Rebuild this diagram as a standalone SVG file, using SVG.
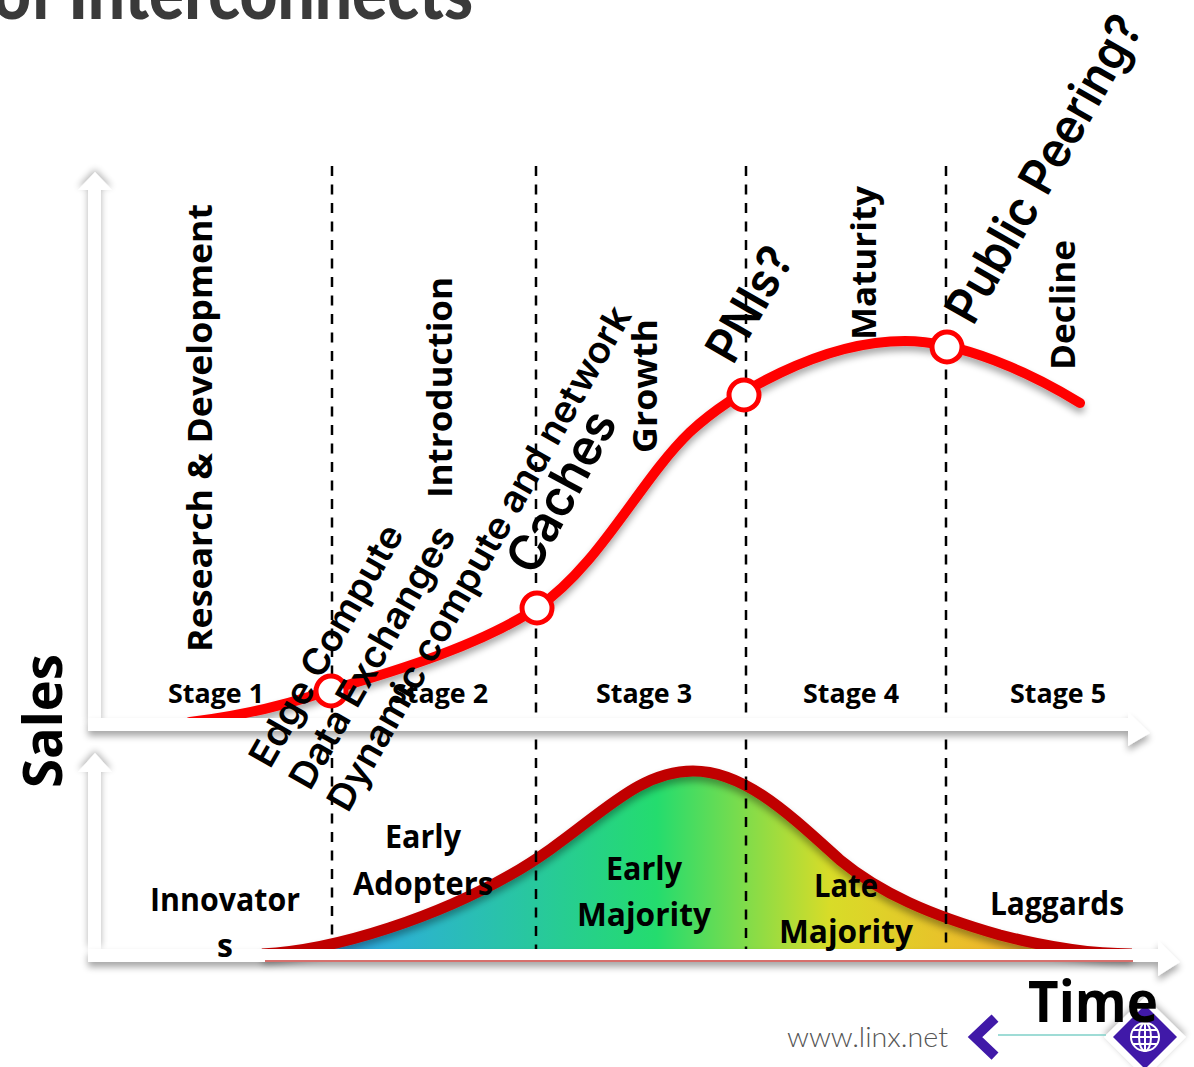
<svg xmlns="http://www.w3.org/2000/svg" width="1194" height="1067" viewBox="0 0 1194 1067">
<defs>
<filter id="sh" x="-20%" y="-60%" width="140%" height="220%"><feGaussianBlur in="SourceAlpha" stdDeviation="3.5"/><feOffset dx="0" dy="5"/><feComponentTransfer><feFuncA type="linear" slope="0.35"/></feComponentTransfer><feMerge><feMergeNode/><feMergeNode in="SourceGraphic"/></feMerge></filter>
<filter id="sh0" x="-100%" y="-10%" width="300%" height="120%"><feGaussianBlur in="SourceAlpha" stdDeviation="3.5"/><feOffset dx="0" dy="-3"/><feComponentTransfer><feFuncA type="linear" slope="0.3"/></feComponentTransfer><feMerge><feMergeNode/><feMergeNode in="SourceGraphic"/></feMerge></filter>
<linearGradient id="bell" gradientUnits="userSpaceOnUse" x1="340" y1="0" x2="1060" y2="0"><stop offset="0" stop-color="#2ea8e8"/><stop offset="0.44" stop-color="#24dc6e"/><stop offset="0.68" stop-color="#d8dc28"/><stop offset="1" stop-color="#f8a82c"/></linearGradient>
<clipPath id="above"><rect x="0" y="0" width="1194" height="718"/></clipPath>
<style>
.cal{font-family:"Open Sans","Liberation Sans",sans-serif;font-weight:700;fill:#000}
.rot{font-family:"Open Sans","Liberation Sans",sans-serif;font-weight:700;fill:#000}
.ang{font-family:Inter,"Open Sans",sans-serif;font-weight:600;fill:#000}
.axis{fill:#fff}
.div{stroke:#000;stroke-width:2.5;stroke-dasharray:10 8.5;fill:none}
.dot{fill:#fff;stroke:#f00;stroke-width:5}
</style>
</defs>
<rect width="1194" height="1067" fill="#fff"/>
<text id="title" x="-7" y="19" font-family="Lato,'Open Sans',sans-serif" font-weight="900" font-size="74" fill="#3a3a3a" textLength="480" lengthAdjust="spacingAndGlyphs">of Interconnects</text>
<g id="connectors">
<line class="div" x1="332" y1="166" x2="332" y2="950"/>
<line class="div" x1="536" y1="166" x2="536" y2="950"/>
<line class="div" x1="746" y1="166" x2="746" y2="950"/>
<line class="div" x1="946" y1="166" x2="946" y2="950"/>
</g>
<g id="bell-curve">
<path d="M262 954C340 950 440 915 510 875C590 830 630 771 693 771C745 771 790 815 840 860C880 893 930 915 1000 935C1050 948 1090 954 1132 954Z" fill="url(#bell)"/>
<path d="M262 954C340 950 440 915 510 875C590 830 630 771 693 771C745 771 790 815 840 860C880 893 930 915 1000 935C1050 948 1090 954 1132 954" fill="none" stroke="#c00000" stroke-width="11" filter="url(#sh)"/>
<line class="div" x1="536" y1="852" x2="536" y2="950"/>
<line class="div" x1="746" y1="780" x2="746" y2="950"/>
<line class="div" x1="946" y1="914" x2="946" y2="950"/>
</g>
<g id="growth-curve" clip-path="url(#above)">
<path d="M190 722C240 716 290 704 330 690C400 670 480 645 537 608C600 565 640 480 690 432C730 395 820 341 905 341C960 341 1030 372 1080 403" fill="none" stroke="#f00" stroke-width="10" stroke-linecap="round" filter="url(#sh)"/>
</g>
<g id="axes">
<path class="axis" filter="url(#sh0)" d="M88 725V190H78L95 172L112 190H101V725Z"/>
<path class="axis" filter="url(#sh0)" d="M88 950V772H78L95 753L112 772H101V950Z"/>
<path class="axis" filter="url(#sh)" d="M88 718H1128V712L1150 733L1128 746V731H88Z"/>
<path class="axis" filter="url(#sh)" d="M88 949H1158V940L1180 962L1158 976V962H88Z"/>
<line x1="265" y1="961" x2="1133" y2="961" stroke="#c8403c" stroke-width="1.5"/>
</g>
<g id="markers">
<circle id="m1" class="dot" cx="331" cy="691" r="15"/>
<circle id="m2" class="dot" cx="537" cy="608" r="15"/>
<circle id="m3" class="dot" cx="744" cy="395" r="15"/>
<circle id="m4" class="dot" cx="947" cy="347" r="15"/>
</g>
<g id="stages" font-size="26">
<text class="cal" x="216" y="703" text-anchor="middle" textLength="96" lengthAdjust="spacingAndGlyphs">Stage 1</text>
<text class="cal" x="440" y="703" text-anchor="middle" textLength="96" lengthAdjust="spacingAndGlyphs">Stage 2</text>
<text class="cal" x="644" y="703" text-anchor="middle" textLength="96" lengthAdjust="spacingAndGlyphs">Stage 3</text>
<text class="cal" x="851" y="703" text-anchor="middle" textLength="96" lengthAdjust="spacingAndGlyphs">Stage 4</text>
<text class="cal" x="1058" y="703" text-anchor="middle" textLength="96" lengthAdjust="spacingAndGlyphs">Stage 5</text>
</g>
<g id="phases" font-size="34">
<text class="rot" transform="translate(212 652) rotate(-90)" textLength="448" lengthAdjust="spacingAndGlyphs">Research &amp; Development</text>
<text class="rot" transform="translate(452 498) rotate(-90)" textLength="221" lengthAdjust="spacingAndGlyphs">Introduction</text>
<text class="rot" transform="translate(657 453) rotate(-90)" textLength="134" lengthAdjust="spacingAndGlyphs">Growth</text>
<text class="rot" transform="translate(876 340) rotate(-90)" textLength="154" lengthAdjust="spacingAndGlyphs">Maturity</text>
<text class="rot" transform="translate(1075 370) rotate(-90)" textLength="130" lengthAdjust="spacingAndGlyphs">Decline</text>
</g>
<g id="angled">
<text class="ang" transform="translate(270 770) rotate(-60.3)" textLength="272" lengthAdjust="spacingAndGlyphs" font-size="37">Edge Compute</text>
<text class="ang" transform="translate(310 792) rotate(-60.3)" textLength="296" lengthAdjust="spacingAndGlyphs" font-size="37">Data Exchanges</text>
<text class="ang" transform="translate(348 814) rotate(-60.3)" textLength="574" lengthAdjust="spacingAndGlyphs" font-size="37">Dynamic compute and network</text>
<text class="ang" transform="translate(535 577) rotate(-61.7)" textLength="176" lengthAdjust="spacingAndGlyphs" font-size="50">Caches</text>
<text class="ang" transform="translate(733 366) rotate(-60)" textLength="124" lengthAdjust="spacingAndGlyphs" font-size="48">PNIs?</text>
<text class="ang" transform="translate(973 327) rotate(-60.3)" textLength="345" lengthAdjust="spacingAndGlyphs" font-size="49">Public Peering?</text>
</g>
<g id="adopters" font-size="32">
<text class="cal" x="225" y="911" text-anchor="middle" textLength="150" lengthAdjust="spacingAndGlyphs">Innovator</text>
<text class="cal" x="225" y="957" text-anchor="middle">s</text>
<text class="cal" x="423" y="848" text-anchor="middle" textLength="76" lengthAdjust="spacingAndGlyphs">Early</text>
<text class="cal" x="423" y="895" text-anchor="middle" textLength="140" lengthAdjust="spacingAndGlyphs">Adopters</text>
<text class="cal" x="644" y="880" text-anchor="middle" textLength="76" lengthAdjust="spacingAndGlyphs">Early</text>
<text class="cal" x="644" y="926" text-anchor="middle" textLength="134" lengthAdjust="spacingAndGlyphs">Majority</text>
<text class="cal" x="846" y="897" text-anchor="middle" textLength="64" lengthAdjust="spacingAndGlyphs">Late</text>
<text class="cal" x="846" y="943" text-anchor="middle" textLength="134" lengthAdjust="spacingAndGlyphs">Majority</text>
<text class="cal" x="1057" y="915" text-anchor="middle" textLength="134" lengthAdjust="spacingAndGlyphs">Laggards</text>
</g>
<text id="sales" class="rot" transform="translate(62 788) rotate(-90)" font-size="54" textLength="134" lengthAdjust="spacingAndGlyphs">Sales</text>
<g id="logo">
<path d="M1145 997L1186 1037L1145 1078L1104 1037Z" fill="#fff" filter="url(#sh0)"/>
<path d="M1145 1005L1177 1037L1145 1069L1113 1037Z" fill="#4019a8"/>
<g fill="none" stroke="#fff" stroke-width="2"><circle cx="1145" cy="1037" r="14"/><ellipse cx="1145" cy="1037" rx="6" ry="14"/><path d="M1131 1037H1159M1133 1030H1157M1133 1044H1157M1145 1023V1051"/></g>
<path d="M995 1018L975 1037L995 1056" fill="none" stroke="#4019a8" stroke-width="10"/>
<line x1="998" y1="1035" x2="1106" y2="1035" stroke="#7fd0c8" stroke-width="1.5"/>
<text x="787" y="1047" font-family="Lato,'Open Sans',sans-serif" font-weight="300" font-size="27" fill="#555" textLength="161" lengthAdjust="spacingAndGlyphs">www.linx.net</text>
</g>
<text id="time" class="cal" x="1028" y="1022" font-size="58" textLength="130" lengthAdjust="spacingAndGlyphs">Time</text>
</svg>
